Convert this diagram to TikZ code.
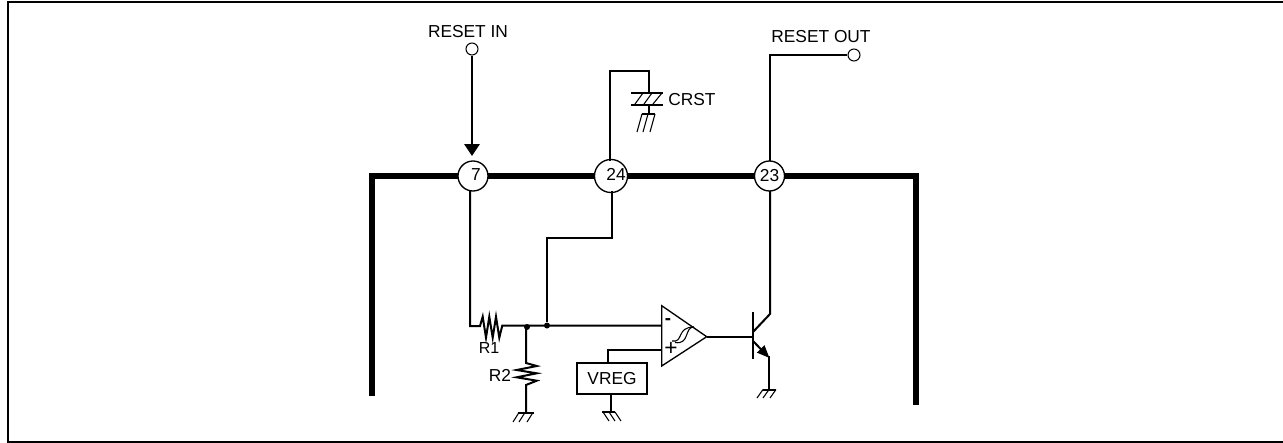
\documentclass[tikz,border=0pt]{standalone}
\usepackage{fontspec}
\setmainfont{Liberation Sans}
\usetikzlibrary{arrows.meta}
\tikzset{
  wire/.style={line width=1.5pt,line cap=butt,line join=miter},
  chip/.style={line width=4.2pt,line join=miter,line cap=butt},
  pin/.style={circle,draw,line width=1pt,fill=white,minimum size=22.5pt,inner sep=0pt,font=\fontsize{13}{13}\selectfont},
  term/.style={circle,draw,line width=.8pt,fill=white,minimum size=9pt,inner sep=0pt},
  lbl/.style={inner sep=0pt,font=\fontsize{13}{13}\selectfont,text=black},
  dot/.style={circle,fill=black,minimum size=4.5pt,inner sep=0pt},
  hatch/.style={line width=.8pt},
}
\begin{document}
\begin{tikzpicture}[x=.75pt,y=-.75pt]
\useasboundingbox (0,0) rectangle (1283,443);
\draw[line width=1.5pt,line join=miter] (1283,2) -- (8,2) -- (8,442) -- (1283,442);
% chip outline
\draw[chip] (372,396) -- (372,176) -- (916,176) -- (916,405);
% pins
\node[pin] (p7) at (473,176) {\hspace*{4.5pt}\raisebox{2.5pt}{7}};
\node[pin] (p24) at (611,176) {\hspace*{7.5pt}\raisebox{2.5pt}{24}};
\node[pin] (p23) at (769.5,176) {\raisebox{1.5pt}{23}};
% terminals
\node[term] (tin) at (472,49) {};
\node[term] (tout) at (854,55) {};
\node[lbl] (lin) at (468,32) {RESET IN};
\node[lbl] (lout) at (821,37) {RESET OUT};
\node[lbl,anchor=west] (lc) at (668,100) {CRST};
\node[lbl] (lr1) at (489,348) {\fontsize{12}{12}\selectfont R1};
\node[lbl] (lr2) at (500,375) {R2};
% reset in
\coordinate (arr) at (472,156);
\draw[wire,-{Triangle[length=9pt,width=11.5pt]}] (tin) -- (arr);
% pin 24 up and capacitor
\coordinate (c0) at (610,71); \coordinate (c1) at (649,71); \coordinate (c2) at (649,93);
\coordinate (c3) at (649,105); \coordinate (c4) at (649,114);
\draw[wire] (610,161) -- (c0) -- (c1) -- (c2);
\draw[wire] (631,93) -- (663,93);
\draw[wire] (631,105) -- (663,105);
\foreach \a/\b in {643/635,652/644,662/653}{\draw[hatch] (\a,93) -- (\b,104);}
\draw[wire] (c3) -- (c4);
\draw[wire] (642,114) -- (655,114);
\foreach \a in {642,648,655}{\draw[hatch] (\a,114) -- (\a-5,132);}
% reset out
\draw[wire] (770,161) -- (770,55) -- (tout);
% pin 7 to R1
\coordinate (mid) at (547,325.5);
\node[dot] (d1) at (mid) {};
\node[dot] (d2) at (527,327) {};
\draw[wire] (470,191) -- (470,326) -- (480,326) -- (482.7,316.7) -- (486,337.7) -- (489.3,316.7) -- (492.7,337.7) -- (496,316.7) -- (499.3,337.7) -- (502.3,325.5) -- (661,325.5);
\draw[wire] (612,191) -- (612,238) -- (547,238) -- (d1);
% R2
\draw[wire] (526,326) -- (526,363) -- (536.7,366) -- (516.7,370) -- (536.7,373.3) -- (516.7,377.3) -- (536.7,380.7) -- (526,385) -- (526,412);
\draw[wire] (517.5,412.5) -- (534,412.5);
\foreach \a in {520,526,534}{\draw[hatch] (\a-1,412.5) -- (\a-7,422);}
% VREG
\node[draw,line width=1.5pt,minimum width=52.5pt,minimum height=23.2pt,inner sep=0pt,font=\fontsize{13}{13}\selectfont] (vreg) at (612,378.5) {VREG};
\draw[wire] (608,363) -- (608,350) -- (661,350);
\draw[wire] (611,394) -- (611,412);
\draw[wire] (602,412) -- (615,412);
\foreach \a in {603,609,615}{\draw[hatch] (\a,412) -- (\a+6,421);}
% comparator
\coordinate (oa1) at (661.7,305.7); \coordinate (oa2) at (661.7,366); \coordinate (oa3) at (706.7,336.7);
\draw[line width=1pt,line join=miter] (oa1) -- (oa3) -- (oa2) -- cycle;
\node[lbl,font=\fontsize{14}{14}\selectfont\bfseries] (minus) at (668,322) {-};
\node[lbl,font=\fontsize{17}{17}\selectfont] (plus) at (671,349) {+};
\draw[line width=.8pt] (672,341) .. controls (684,343) and (676,327) .. (694,327);
\draw[line width=.8pt] (675,342.5) .. controls (690,345) and (684,327) .. (694,327);
% transistor
\draw[wire] (oa3) -- (753,336.7);
\draw[line width=2pt] (753,312) -- (753,359);
\draw[wire] (753,332) -- (770,314) -- (770,191);
\coordinate (em) at (769.5,358);
\draw[wire,-{Triangle[length=9.5pt,width=7.5pt]}] (753,341) -- (em);
\draw[wire] (769,356) -- (769,389);
\draw[wire] (763,389.5) -- (776,389.5);
\foreach \a in {763,769,776}{\draw[hatch] (\a,389.5) -- (\a-6,398);}
\end{tikzpicture}
\end{document}
